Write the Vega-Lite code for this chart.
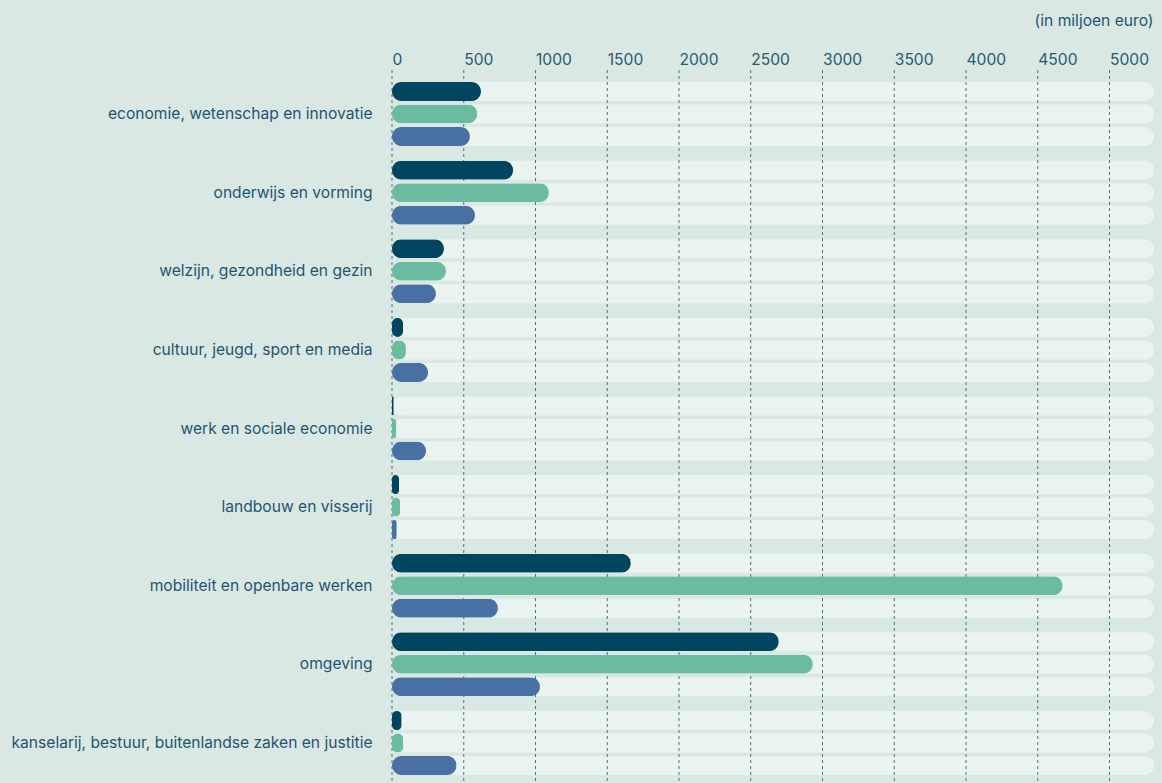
{
  "$schema": "https://vega.github.io/schema/vega-lite/v6.json",
  "autosize": "none",
  "width": 762,
  "height": 717,
  "padding": {"left": 392, "top": 70, "right": 8, "bottom": 0},
  "background": "#d9e8e3",
  "config": {
    "view": {"stroke": null},
    "font": "Inter"
  },
  "datasets": {
    "budget": [
      {"categorie": "economie, wetenschap en innovatie", "reeks": "reeks 1", "waarde": 620},
      {"categorie": "economie, wetenschap en innovatie", "reeks": "reeks 2", "waarde": 594},
      {"categorie": "economie, wetenschap en innovatie", "reeks": "reeks 3", "waarde": 543},
      {"categorie": "onderwijs en vorming", "reeks": "reeks 1", "waarde": 844},
      {"categorie": "onderwijs en vorming", "reeks": "reeks 2", "waarde": 1093},
      {"categorie": "onderwijs en vorming", "reeks": "reeks 3", "waarde": 578},
      {"categorie": "welzijn, gezondheid en gezin", "reeks": "reeks 1", "waarde": 362},
      {"categorie": "welzijn, gezondheid en gezin", "reeks": "reeks 2", "waarde": 376},
      {"categorie": "welzijn, gezondheid en gezin", "reeks": "reeks 3", "waarde": 306},
      {"categorie": "cultuur, jeugd, sport en media", "reeks": "reeks 1", "waarde": 77},
      {"categorie": "cultuur, jeugd, sport en media", "reeks": "reeks 2", "waarde": 97},
      {"categorie": "cultuur, jeugd, sport en media", "reeks": "reeks 3", "waarde": 251},
      {"categorie": "werk en sociale economie", "reeks": "reeks 1", "waarde": 12},
      {"categorie": "werk en sociale economie", "reeks": "reeks 2", "waarde": 30},
      {"categorie": "werk en sociale economie", "reeks": "reeks 3", "waarde": 237},
      {"categorie": "landbouw en visserij", "reeks": "reeks 1", "waarde": 49},
      {"categorie": "landbouw en visserij", "reeks": "reeks 2", "waarde": 56},
      {"categorie": "landbouw en visserij", "reeks": "reeks 3", "waarde": 33},
      {"categorie": "mobiliteit en openbare werken", "reeks": "reeks 1", "waarde": 1664},
      {"categorie": "mobiliteit en openbare werken", "reeks": "reeks 2", "waarde": 4673},
      {"categorie": "mobiliteit en openbare werken", "reeks": "reeks 3", "waarde": 738},
      {"categorie": "omgeving", "reeks": "reeks 1", "waarde": 2695},
      {"categorie": "omgeving", "reeks": "reeks 2", "waarde": 2932},
      {"categorie": "omgeving", "reeks": "reeks 3", "waarde": 1031},
      {"categorie": "kanselarij, bestuur, buitenlandse zaken en justitie", "reeks": "reeks 1", "waarde": 67},
      {"categorie": "kanselarij, bestuur, buitenlandse zaken en justitie", "reeks": "reeks 2", "waarde": 79},
      {"categorie": "kanselarij, bestuur, buitenlandse zaken en justitie", "reeks": "reeks 3", "waarde": 450}
    ],
    "ticks": [
      {"v": 0}, {"v": 500}, {"v": 1000}, {"v": 1500}, {"v": 2000}, {"v": 2500},
      {"v": 3000}, {"v": 3500}, {"v": 4000}, {"v": 4500}, {"v": 5000}
    ]
  },
  "layer": [
    {
      "data": {"name": "budget"},
      "mark": {"type": "bar", "color": "#eaf3ef", "cornerRadius": 9.5},
      "encoding": {
        "y": {
          "field": "categorie", "type": "nominal", "sort": null,
          "scale": {"paddingInner": 0.186, "paddingOuter": 0.153},
          "axis": {
            "title": null, "domain": false, "ticks": false, "labelPadding": 20,
            "labelFontSize": 15.6, "labelColor": "#1f5573", "labelLimit": 500
          }
        },
        "yOffset": {
          "field": "reeks", "type": "nominal", "sort": null,
          "scale": {"paddingInner": 0.156, "paddingOuter": 0}
        },
        "x": {
          "datum": 0, "type": "quantitative",
          "scale": {"domain": [0, 5310], "nice": false, "zero": true},
          "axis": {
            "orient": "top", "values": [0, 500, 1000, 1500, 2000, 2500, 3000, 3500, 4000, 4500, 5000],
            "format": "d", "grid": false, "domain": false, "ticks": false,
            "labelAlign": "left", "labelBaseline": "alphabetic", "labelPadding": 6,
            "labelFontSize": 15.6, "labelColor": "#2a5a72",
            "title": "(in miljoen euro)", "titleFontWeight": "normal", "titleFontSize": 15.6,
            "titleColor": "#1f5573", "titleAlign": "right", "titleAnchor": "end",
            "titleX": 761, "titleY": -50, "titleBaseline": "middle"
          }
        },
        "x2": {"datum": 5310}
      }
    },
    {
      "data": {"name": "ticks"},
      "mark": {"type": "rule", "color": "#2d5e76", "strokeDash": [3, 3], "strokeWidth": 1, "opacity": 0.85},
      "encoding": {
        "x": {"field": "v", "type": "quantitative"}
      }
    },
    {
      "data": {"name": "budget"},
      "mark": {"type": "bar", "cornerRadius": 9.5},
      "encoding": {
        "y": {"field": "categorie", "type": "nominal", "sort": null},
        "yOffset": {"field": "reeks", "type": "nominal", "sort": null},
        "x": {"field": "waarde", "type": "quantitative"},
        "color": {
          "field": "reeks", "type": "nominal", "sort": null,
          "scale": {"range": ["#00455f", "#6bbba1", "#4970a3"]},
          "legend": null
        }
      }
    }
  ]
}
